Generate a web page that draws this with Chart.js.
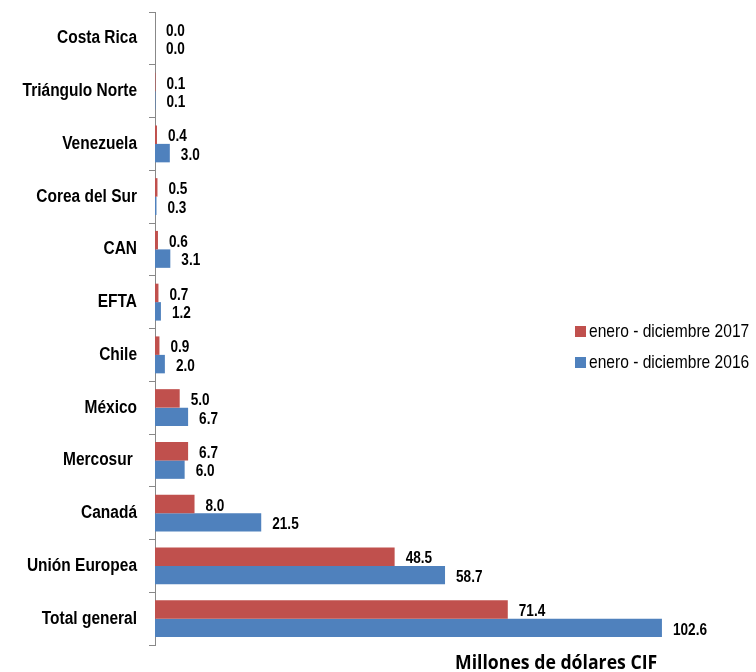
<!DOCTYPE html>
<html>
<head>
<meta charset="utf-8">
<script src="https://cdn.jsdelivr.net/npm/chart.js@4"></script>
<style>
  body { margin: 0; background: #fff; }
  #wrap { position: relative; width: 756px; height: 672px; }
  .ley { position: absolute; left: 575px; font: 19px 'Liberation Sans', Arial, sans-serif; color: #000; white-space: nowrap; }
  .ley span { display: inline-block; width: 11px; height: 11px; margin-right: 3px; vertical-align: 1px; }
  .ley .txt { display: inline-block; transform-origin: left center; transform: scaleX(0.82); width: auto; height: auto; margin: 0; }
  #titulo { position: absolute; left: 455px; top: 649px; font: bold 19px 'Open Sans', sans-serif; white-space: nowrap; transform-origin: left center; transform: scaleX(0.93); }
</style>
</head>
<body>
<div id="wrap">
  <canvas id="grafico" width="756" height="672"></canvas>
  <div class="ley" style="top:320px"><span style="background:#C0504D"></span><span class="txt">enero - diciembre 2017</span></div>
  <div class="ley" style="top:351px"><span style="background:#4F81BD"></span><span class="txt">enero - diciembre 2016</span></div>
  <div id="titulo">Millones de dólares CIF</div>
</div>
<script>
// datos del grafico
const categorias = ['Costa Rica', 'Triángulo Norte', 'Venezuela', 'Corea del Sur', 'CAN', 'EFTA', 'Chile', 'México', 'Mercosur ', 'Canadá', 'Unión Europea', 'Total general']
const valores2017 = [0.0, 0.1, 0.4, 0.5, 0.6, 0.7, 0.9, 5.0, 6.7, 8.0, 48.5, 71.4]
const valores2016 = [0.0, 0.1, 3.0, 0.3, 3.1, 1.2, 2.0, 6.7, 6.0, 21.5, 58.7, 102.6]
const series = ['enero - diciembre 2017', 'enero - diciembre 2016']

const fuente = "'Liberation Sans', Arial, sans-serif"

// texto angosto (el original usa una fuente condensada)
function textoAngosto(ctx, texto, x, y, escala) {
    ctx.save()
    ctx.translate(x, y)
    ctx.scale(escala, 1)
    ctx.fillText(texto, 0, 0)
    ctx.restore()
}

// nombres de categoria y etiquetas de valor
const textos = {
    id: 'textos',
    afterDraw(chart) {
        const ctx = chart.ctx
        const ejeY = chart.scales.y
        ctx.save()
        ctx.fillStyle = '#000'
        ctx.textBaseline = 'middle'

        ctx.font = 'bold 18px ' + fuente
        ctx.textAlign = 'right'
        chart.data.labels.forEach((nombre, i) => {
            textoAngosto(ctx, nombre, ejeY.right - 18, ejeY.getPixelForValue(i), 0.86)
        })

        ctx.font = 'bold 17px ' + fuente
        ctx.textAlign = 'left'
        chart.data.datasets.forEach((ds, i) => {
            chart.getDatasetMeta(i).data.forEach((barra, j) => {
                textoAngosto(ctx, ds.data[j].toFixed(1), barra.x + 11, barra.y + 2, 0.8)
            })
        })
        ctx.restore()
    }
}

function grafico_barras() {
    const ctx = document.getElementById('grafico')

    new Chart(ctx, {
        type: 'bar',
        data: {
            labels: categorias,
            datasets: [
                { label: series[0], data: valores2017, backgroundColor: '#C0504D' },
                { label: series[1], data: valores2016, backgroundColor: '#4F81BD' }
            ]
        },
        options: {
            indexAxis: 'y',
            responsive: false,
            animation: false,
            categoryPercentage: 0.7,
            barPercentage: 1.0,
            layout: { padding: { top: 12, bottom: 27, right: 16 } },
            plugins: { legend: { display: false }, tooltip: { enabled: false } },
            scales: {
                x: { display: false, min: 0, max: 118.4 },
                y: {
                    afterFit(scale) { scale.width = 155 },
                    border: { display: true, color: '#888', width: 1 },
                    grid: { drawOnChartArea: false, drawTicks: true, tickLength: 6, color: '#888', offset: true },
                    ticks: { display: false }
                }
            }
        },
        plugins: [textos]
    })
}

grafico_barras()
</script>
</body>
</html>
